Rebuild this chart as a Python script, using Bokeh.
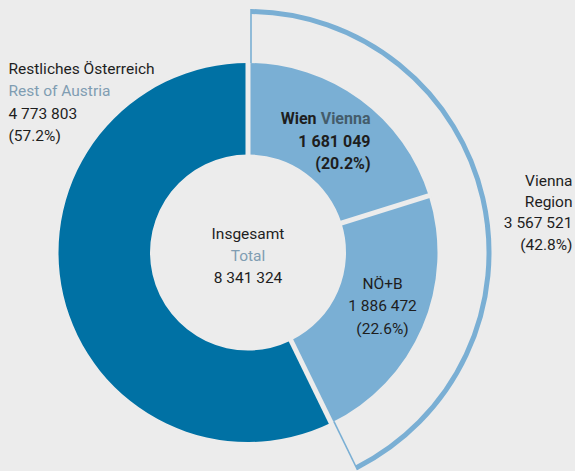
import numpy as np
from bokeh.plotting import figure
from bokeh.models import Range1d
from bokeh.core.properties import value
from bokeh.embed import file_html
from bokeh.resources import INLINE

# ---- data ----
names_de = ["Wien", "NÖ+B", "Restliches Österreich"]
names_en = ["Vienna", "", "Rest of Austria"]
population = [1681049, 1886472, 4773803]
shares = [20.2, 22.6, 57.2]
total_population = 8341324
region_label = ["Vienna", "Region"]
region_population = 3567521
region_share = 42.8

BG = "#ECECEC"
DARK = "#0071A4"
LIGHT = "#7AAFD4"
INK = "#1E1E1E"
SOFT = "#809DB2"
MID = "#445C6B"
FONT = value("Roboto")
FS = "15.5px"
FSB = "16px"


def fmt(v):
    return f"{v:,}".replace(",", " ")


W, H = 575, 471
p = figure(width=W, height=H, x_range=Range1d(0, W), y_range=Range1d(0, H),
           x_axis_type=None, y_axis_type=None, toolbar_location=None,
           output_backend="svg", min_border=0, outline_line_color=None,
           background_fill_color=BG, border_fill_color=BG)

cx, cy = 247.5, 219.0
r_in, r_out = 98.0, 189.5
r_br = 241.0

vals = np.array(population, dtype=float)
cum = np.concatenate([[0], np.cumsum(vals)]) / vals.sum()
theta = np.radians(90 - 360 * cum)  # boundaries in radians
colors = [LIGHT, LIGHT, DARK]

p.annular_wedge(x=cx, y=cy, inner_radius=r_in, outer_radius=r_out,
                start_angle=theta[1:], end_angle=theta[:-1],
                direction="anticlock", fill_color=colors, line_color=None)

# gaps between slices
bnd = theta[:3]
p.segment(x0=cx + (r_in - 2) * np.cos(bnd), y0=cy + (r_in - 2) * np.sin(bnd),
          x1=cx + (r_out + 2) * np.cos(bnd), y1=cy + (r_out + 2) * np.sin(bnd),
          line_color=BG, line_width=5)

# bracket around the Vienna region
a_top, a_bot = theta[0], theta[2]
off = 3.0
d = off / r_br
p.arc(x=cx, y=cy, radius=r_br, start_angle=a_bot + d, end_angle=a_top - d,
      direction="anticlock", line_color=LIGHT, line_width=5)
ox = np.array([off * np.sin(a_top), -off * np.sin(a_bot)])
oy = np.array([-off * np.cos(a_top), off * np.cos(a_bot)])
angs = np.array([a_top, a_bot])
p.segment(x0=cx + r_out * np.cos(angs) + ox, y0=cy + r_out * np.sin(angs) + oy,
          x1=cx + (r_br + 2.5) * np.cos(angs) + ox, y1=cy + (r_br + 2.5) * np.sin(angs) + oy,
          line_color=LIGHT, line_width=1.6)

common = dict(text_font=FONT, text_font_size=FS, text_baseline="middle")
bold = dict(text_font=FONT, text_font_size=FSB, text_baseline="middle", text_font_style="bold")

# rest of Austria (top-left)
p.text(x=[8, 8, 8], y=[403, 358, 335.5],
       text=[names_de[2], fmt(population[2]), f"({shares[2]}%)"],
       text_align="left", text_color=INK, **common)
p.text(x=[8], y=[380.5], text=[names_en[2]], text_align="left", text_color=SOFT, **common)

# Wien
p.text(x=[316], y=[353], text=[names_de[0]], text_align="right", text_color=INK, **bold)
p.text(x=[370], y=[353], text=[names_en[0]], text_align="right", text_color=MID, **bold)
p.text(x=[370, 370], y=[330.5, 308], text=[fmt(population[0]), f"({shares[0]}%)"],
       text_align="right", text_color=INK, **bold)

# NÖ+B
p.text(x=[382] * 3, y=[188, 165.5, 143],
       text=[names_de[1], fmt(population[1]), f"({shares[1]}%)"],
       text_align="center", text_color=INK, **common)

# centre
p.text(x=[cx, cx], y=[238, 194], text=["Insgesamt", fmt(total_population)],
       text_align="center", text_color=INK, **common)
p.text(x=[cx], y=[216], text=["Total"], text_align="center", text_color=SOFT, **common)

# Vienna region
p.text(x=[572] * 4, y=[291, 270, 249, 227],
       text=region_label + [fmt(region_population), f"({region_share}%)"],
       text_align="right", text_color=INK, **common)

template = "{% block postamble %}<style>html, body { background: #ECECEC; }</style>{% endblock %}"
open("out.html", "w").write(file_html(p, INLINE, template=template))
